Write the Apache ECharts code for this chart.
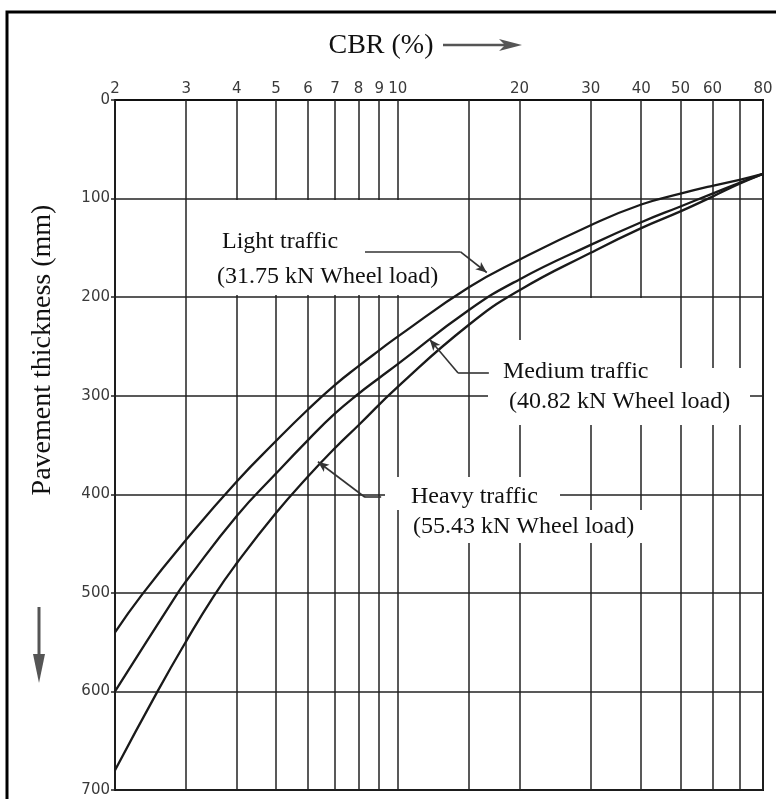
<!DOCTYPE html>
<html><head><meta charset="utf-8">
<script src="https://cdn.jsdelivr.net/npm/echarts@6/dist/echarts.min.js"></script>
<style>html,body{margin:0;padding:0;background:#fff}#c{width:776px;height:799px}</style>
</head><body><div id="c"></div>
<script>
// ---- data ----
const lightCBR   = [2, 2.33, 3, 4, 5, 6, 7, 8, 9, 10, 15, 20, 30, 40, 50, 60, 70, 80];
const lightT     = [540, 502, 446, 387, 346, 314, 289, 270, 254, 240, 190, 162, 127, 106, 95, 87, 81, 75];
const mediumCBR  = [2, 2.86, 3, 4, 5, 6, 7, 8, 9, 10, 15, 20, 30, 40, 50, 60, 70, 80];
const mediumT    = [600, 500, 488, 422, 379, 345, 318, 298, 282, 268, 213, 182, 147, 124, 108, 95, 84, 75];
const heavyCBR   = [2, 2.54, 3, 3.5, 4, 5, 6, 7, 8, 10, 15, 20, 30, 40, 50, 60, 70, 80];
const heavyT     = [680, 601, 549, 504, 470, 419, 382, 353, 330, 291, 228, 193, 155, 130, 113, 98, 85, 75];

const gridCBR    = [2, 3, 4, 5, 6, 7, 8, 9, 10, 15, 20, 30, 40, 50, 60, 70, 80];
const labelCBR   = [2, 3, 4, 5, 6, 7, 8, 9, 10, 20, 30, 40, 50, 60, 80];
const thickMin = 0, thickMax = 700, thickStep = 100;

const xTitle = 'CBR (%)';
const yTitle = 'Pavement thickness (mm)';
const seriesNames = ['Light traffic', 'Medium traffic', 'Heavy traffic'];
const seriesLoads = ['(31.75 kN Wheel load)', '(40.82 kN Wheel load)', '(55.43 kN Wheel load)'];

// leader line anchor points (CBR, thickness)
const lightLeader  = [[8.3, 154], [14.3, 154], [16.6, 175]];
const mediumLeader = [[16.8, 277], [14.1, 277], [12.0, 243]];
const heavyLeader  = [[9.1, 403], [8.3, 403], [6.35, 367]];

// ---- build ----
const zip = (a, b) => a.map((v, i) => [v, b[i]]);
const labelSet = new Set(labelCBR);
const ink = '#1a1a1a';
const serif = '"Liberation Serif", "Times New Roman", serif';

function leaderLines(pts) {
  return [
    [{coord: pts[0]}, {coord: pts[1]}],
    [{coord: pts[1]}, {coord: pts[2], symbol: 'arrow', symbolSize: [7, 11]}]
  ];
}
function curve(name, data, pts) {
  return {
    name, type: 'line', data, z: 3, symbol: 'none', smooth: 0.5,
    lineStyle: {color: ink, width: 2.3}, animation: false, silent: true,
    markLine: {
      silent: true, symbol: ['none', 'none'], animation: false, z: 4,
      lineStyle: {color: '#333', width: 1.6, type: 'solid'},
      label: {show: false}, emphasis: {disabled: true},
      data: leaderLines(pts)
    }
  };
}

const chart = echarts.init(document.getElementById('c'), null, {renderer: 'canvas'});
const white = (x, y, w, h) => ({type: 'rect', z: 2, silent: true, shape: {x, y, width: w, height: h}, style: {fill: '#fff'}});
const text = (t, x, y, size, extra) => Object.assign({type: 'text', z: 5, silent: true, x, y,
  style: {text: t, font: size + 'px ' + serif, fill: '#111', textAlign: 'left', textVerticalAlign: 'middle'}}, extra || {});

chart.setOption({
  backgroundColor: '#fff',
  animation: false,
  grid: {left: 115, top: 100, right: 13, bottom: 9, show: true, borderColor: '#111', borderWidth: 2, backgroundColor: 'transparent'},
  xAxis: {
    type: 'log', logBase: 10, min: 2, max: 80, position: 'top',
    axisLine: {show: true, lineStyle: {color: '#111', width: 2}},
    axisTick: {show: false}, axisLabel: {show: false}, splitLine: {show: false}, minorSplitLine: {show: false}
  },
  yAxis: {
    type: 'value', inverse: true, min: thickMin, max: thickMax, interval: thickStep,
    axisLine: {show: true, lineStyle: {color: '#111', width: 2}},
    axisTick: {show: true, length: 4, lineStyle: {color: '#222', width: 1.5}},
    axisLabel: {fontFamily: 'DejaVu Sans', fontSize: 15, color: '#3a3a3a', margin: 5},
    splitLine: {show: true, lineStyle: {color: '#222', width: 1.5}}
  },
  series: [
    {
      type: 'line', data: [], z: 1, silent: true, animation: false,
      markLine: {
        z: 1, silent: true, symbol: ['none', 'none'], animation: false,
        lineStyle: {color: '#222', width: 1.5, type: 'solid'},
        emphasis: {disabled: true},
        label: {show: true, position: 'start', distance: 3, fontFamily: 'DejaVu Sans', fontSize: 15, color: '#3a3a3a',
          formatter: p => labelSet.has(p.value) ? String(p.value) : ''},
        data: gridCBR.map(v => ({xAxis: v}))
      }
    },
    curve(seriesNames[0], zip(lightCBR, lightT), lightLeader),
    curve(seriesNames[1], zip(mediumCBR, mediumT), mediumLeader),
    curve(seriesNames[2], zip(heavyCBR, heavyT), heavyLeader)
  ],
  graphic: [
    // outer frame
    {type: 'polyline', z: 6, silent: true, shape: {points: [[7, 805], [7, 12], [790, 12]]}, style: {stroke: '#000', lineWidth: 3, fill: null}},
    // white-out boxes behind annotations
    white(205, 200, 252, 95),
    white(540, 298, 125, 127),
    white(488, 340, 52, 85),
    white(665, 368, 85, 57),
    white(385, 477, 175, 33),
    white(403, 510, 240, 33),
    // annotation texts
    text(seriesNames[0], 222, 242, 24),
    text(seriesLoads[0], 217, 277, 24),
    text(seriesNames[1], 503, 372, 24),
    text(seriesLoads[1], 509, 402, 24),
    text(seriesNames[2], 411, 497, 24),
    text(seriesLoads[2], 413, 527, 24),
    // axis titles
    text(xTitle, 381, 46, 28, {style: {text: xTitle, font: '28px ' + serif, fill: '#111', textAlign: 'center', textVerticalAlign: 'middle'}}),
    {type: 'line', z: 5, silent: true, shape: {x1: 443, y1: 45, x2: 506, y2: 45}, style: {stroke: '#555', lineWidth: 2.5}},
    {type: 'polygon', z: 5, silent: true, shape: {points: [[499, 39], [522, 45], [499, 51], [505, 45]]}, style: {fill: '#555'}},
    text(yTitle, 43, 350, 28, {rotation: Math.PI / 2, style: {text: yTitle, font: '28px ' + serif, fill: '#111', textAlign: 'center', textVerticalAlign: 'middle'}}),
    {type: 'line', z: 5, silent: true, shape: {x1: 39, y1: 607, x2: 39, y2: 660}, style: {stroke: '#555', lineWidth: 3}},
    {type: 'polygon', z: 5, silent: true, shape: {points: [[33, 654], [45, 654], [39, 683]]}, style: {fill: '#555'}}
  ]
});
</script></body></html>
